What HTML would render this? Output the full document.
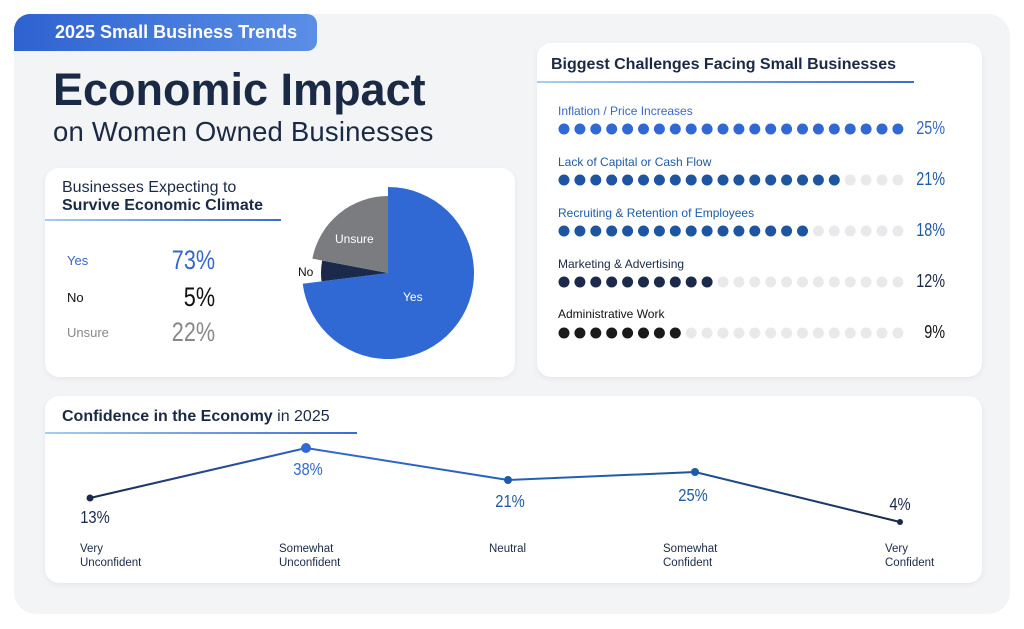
<!DOCTYPE html>
<html><head><meta charset="utf-8"><style>
*{margin:0;padding:0;box-sizing:border-box}
body{width:1024px;height:629px;background:#fff;font-family:"Liberation Sans",sans-serif;position:relative;overflow:hidden;color:#1b2a44}
.abs{position:absolute}
.bg{left:14px;top:14px;width:996px;height:600px;background:#f3f4f6;border-radius:22px}
.badge{left:14px;top:14px;width:303px;height:37px;background:linear-gradient(90deg,#2f62d0,#5b8fe6);border-radius:16px 10px 10px 0;color:#fff;font-weight:bold;font-size:18px;line-height:37px;padding-left:41px}
.card{background:#fff;border-radius:14px;box-shadow:0 2px 6px rgba(0,0,0,.06)}
.num{font-family:"Liberation Sans Narrow","Liberation Sans",sans-serif;display:inline-block;transform:scaleX(.8);transform-origin:right center}
.uline{height:2px;background:linear-gradient(90deg,#a7cdf0,#3d6ad0)}
</style></head><body>
<div class="abs bg"></div>
<div class="abs badge">2025 Small Business Trends</div>
<div class="abs" style="left:53px;top:64px;font-size:45px;font-weight:bold;color:#1b2a44;letter-spacing:0px">Economic Impact</div>
<div class="abs" style="left:53px;top:116px;font-size:27.5px;color:#1b2a44;letter-spacing:0.2px">on Women Owned Businesses</div>

<div class="abs card" style="left:45px;top:168px;width:470px;height:209px"></div>
<div class="abs" style="left:62px;top:179px;font-size:16px;line-height:18px;color:#1b2a44">Businesses Expecting to<br><b>Survive Economic Climate</b></div>
<div class="abs uline" style="left:45px;top:219px;width:236px"></div>
<div class="abs" style="left:67px;top:253px;font-size:13px;color:#3866c8">Yes</div>
<div class="abs" style="left:67px;top:290px;font-size:13px;color:#111">No</div>
<div class="abs" style="left:67px;top:325px;font-size:13px;color:#888">Unsure</div>
<div class="abs" style="right:809px;top:245px;font-size:27px;color:#3866c8"><span class="num">73%</span></div>
<div class="abs" style="right:809px;top:282px;font-size:27px;color:#111"><span class="num">5%</span></div>
<div class="abs" style="right:809px;top:317px;font-size:27px;color:#888"><span class="num">22%</span></div>
<svg class="abs" style="left:0;top:0" width="1024" height="629">
<path d="M388,273 L388,187 A86,86 0 1 1 302.7,283.8 Z" fill="#3068d4"/>
<path d="M388,273 L321.5,281.4 A67,67 0 0 1 322.2,260.5 Z" fill="#1b2a4a"/>
<path d="M388,273 L312.4,258.6 A77,77 0 0 1 388,196 Z" fill="#7b7c80"/>
<text x="403" y="301" font-size="12" fill="#fff" font-family="Liberation Sans">Yes</text>
<text x="335" y="243" font-size="12" fill="#fff" font-family="Liberation Sans">Unsure</text>
<text x="298" y="276" font-size="12" fill="#111" font-family="Liberation Sans">No</text>
</svg>

<div class="abs card" style="left:537px;top:43px;width:445px;height:334px"></div>
<div class="abs" style="left:551px;top:56px;font-size:16px;font-weight:bold;color:#1b2a44">Biggest Challenges Facing Small Businesses</div>
<div class="abs uline" style="left:537px;top:81px;width:377px"></div>
<svg class="abs" style="left:0;top:0" width="1024" height="629" id="dots"></svg>
<div class="abs" style="left:558px;top:104px;font-size:12px;color:#3866c8">Inflation / Price Increases</div>
<div class="abs" style="left:558px;top:155px;font-size:12px;color:#1d5aa8">Lack of Capital or Cash Flow</div>
<div class="abs" style="left:558px;top:206px;font-size:12px;color:#1d5aa8">Recruiting &amp; Retention of Employees</div>
<div class="abs" style="left:558px;top:257px;font-size:12px;color:#1b2a44">Marketing &amp; Advertising</div>
<div class="abs" style="left:558px;top:307px;font-size:12px;color:#111">Administrative Work</div>
<div class="abs" style="right:79px;top:118px;font-size:18px;color:#3866c8"><span class="num">25%</span></div>
<div class="abs" style="right:79px;top:169px;font-size:18px;color:#1d5aa8"><span class="num">21%</span></div>
<div class="abs" style="right:79px;top:220px;font-size:18px;color:#1d5aa8"><span class="num">18%</span></div>
<div class="abs" style="right:79px;top:271px;font-size:18px;color:#1b2a44"><span class="num">12%</span></div>
<div class="abs" style="right:79px;top:322px;font-size:18px;color:#111"><span class="num">9%</span></div>

<div class="abs card" style="left:45px;top:396px;width:937px;height:187px"></div>
<div class="abs" style="left:62px;top:408px;font-size:16px;color:#1b2a44"><b>Confidence in the Economy</b> in 2025</div>
<div class="abs uline" style="left:45px;top:432px;width:312px"></div>
<svg class="abs" style="left:0;top:0" width="1024" height="629">
<defs><linearGradient id="lg" x1="0" x2="1"><stop offset="0" stop-color="#1b2a4a"/><stop offset=".3" stop-color="#3068d4"/><stop offset=".7" stop-color="#1d5aa8"/><stop offset="1" stop-color="#1b2a4a"/></linearGradient></defs>
<polyline points="90,498 306,448 508,480 695,472 900,522" fill="none" stroke="url(#lg)" stroke-width="2"/>
<circle cx="90" cy="498" r="3.5" fill="#1b2a4a"/>
<circle cx="306" cy="448" r="5" fill="#3068d4"/>
<circle cx="508" cy="480" r="4" fill="#1d5aa8"/>
<circle cx="695" cy="472" r="4" fill="#1d5aa8"/>
<circle cx="900" cy="522" r="3" fill="#1b2a4a"/>
<g font-family="Liberation Sans Narrow, Liberation Sans, sans-serif" font-size="18" text-anchor="middle">
<text x="95" y="523" fill="#1b2a4a" transform="translate(95 0) scale(.82 1) translate(-95 0)">13%</text>
<text x="308" y="475" fill="#3068d4" transform="translate(308 0) scale(.82 1) translate(-308 0)">38%</text>
<text x="510" y="507" fill="#1d5aa8" transform="translate(510 0) scale(.82 1) translate(-510 0)">21%</text>
<text x="693" y="501" fill="#1d5aa8" transform="translate(693 0) scale(.82 1) translate(-693 0)">25%</text>
<text x="900" y="510" fill="#1b2a4a" transform="translate(900 0) scale(.82 1) translate(-900 0)">4%</text>
</g>
<g font-family="Liberation Sans" font-size="11.5" fill="#1b2a44">
<text x="80" y="552">Very</text><text x="80" y="566">Unconfident</text>
<text x="279" y="552">Somewhat</text><text x="279" y="566">Unconfident</text>
<text x="489" y="552">Neutral</text>
<text x="663" y="552">Somewhat</text><text x="663" y="566">Confident</text>
<text x="885" y="552">Very</text><text x="885" y="566">Confident</text>
</g>
</svg>
<script>
var s=document.getElementById('dots'),rows=[[129,22,'#3068d4'],[180,18,'#1d55a0'],[231,16,'#1d55a0'],[282,10,'#1b2a4a'],[333,8,'#1a1a1a']],h='';
rows.forEach(function(r){for(var i=0;i<22;i++){h+='<circle cx="'+(564+i*15.9)+'" cy="'+r[0]+'" r="5.5" fill="'+(i<r[1]?r[2]:'#e9e9eb')+'"/>';}});
s.innerHTML=h;
</script>
</body></html>
